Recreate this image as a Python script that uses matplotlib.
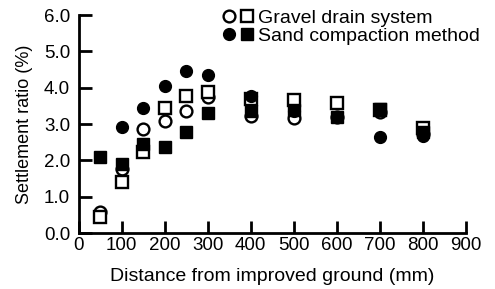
import matplotlib
matplotlib.use("Agg")
import matplotlib.pyplot as plt
from matplotlib.legend_handler import HandlerTuple

plt.rcParams['font.family'] = ['Liberation Sans', 'DejaVu Sans']

# Data (distance in mm, settlement ratio in %)
gravel_circle_x = [50, 100, 150, 200, 250, 300, 400, 500, 600, 700, 800]
gravel_circle_y = [0.59, 1.77, 2.85, 3.07, 3.36, 3.73, 3.22, 3.16, 3.20, 3.32, 2.72]
gravel_square_x = [50, 100, 150, 200, 250, 300, 400, 500, 600, 700, 800]
gravel_square_y = [0.44, 1.41, 2.23, 3.44, 3.77, 3.89, 3.68, 3.65, 3.59, 3.38, 2.90]
sand_circle_x = [100, 150, 200, 250, 300, 400, 500, 600, 700, 800]
sand_circle_y = [2.93, 3.45, 4.05, 4.45, 4.35, 3.78, 3.35, 3.18, 2.65, 2.68]
sand_square_x = [50, 100, 150, 200, 250, 300, 400, 500, 600, 700, 800]
sand_square_y = [2.09, 1.91, 2.44, 2.36, 2.77, 3.29, 3.35, 3.38, 3.20, 3.42, 2.78]

xticks = [0, 100, 200, 300, 400, 500, 600, 700, 800, 900]
yticks = [0.0, 1.0, 2.0, 3.0, 4.0, 5.0, 6.0]
legend_labels = ["Gravel drain system", "Sand compaction method"]

W, H = 495, 289
fig = plt.figure(figsize=(W / 100, H / 100), dpi=100)
left, right, bottom, top = 78.5, 466, 233, 15
ax = fig.add_axes([left / W, 1 - bottom / H, (right - left) / W, (bottom - top) / H])

ms = 8.5
mew = 1.7
oc, = ax.plot(gravel_circle_x, gravel_circle_y, 'o', ms=ms, mfc='white', mec='black', mew=mew, ls='none', zorder=3)
os_, = ax.plot(gravel_square_x, gravel_square_y, 's', ms=ms - 0.5, mfc='white', mec='black', mew=mew, ls='none', zorder=3)
fc, = ax.plot(sand_circle_x, sand_circle_y, 'o', ms=ms, mfc='black', mec='black', ls='none', zorder=4)
fs, = ax.plot(sand_square_x, sand_square_y, 's', ms=ms - 0.5, mfc='black', mec='black', ls='none', zorder=4)

ax.set_xlim(0, 900)
ax.set_ylim(0, 6.0)
ax.set_xticks(xticks)
ax.set_xticklabels([str(t) for t in xticks])
ax.set_yticks(yticks)
ax.set_yticklabels([f"{t:.1f}" for t in yticks])

for s in ['top', 'right']:
    ax.spines[s].set_visible(False)
for s in ['left', 'bottom']:
    ax.spines[s].set_linewidth(2.0)
    ax.spines[s].set_capstyle('projecting')

ax.tick_params(axis='both', direction='in', length=9, width=2.0, labelsize=13.5, colors='black')
ax.tick_params(axis='x', pad=3)
ax.tick_params(axis='y', pad=6)

ax.set_xlabel("Distance from improved ground (mm)", fontsize=14, labelpad=10)
ax.set_ylabel("Settlement ratio (%)", fontsize=13, labelpad=8)

ax.legend([(oc, os_), (fc, fs)], legend_labels,
          handler_map={tuple: HandlerTuple(ndivide=None, pad=0.0)},
          loc='upper left', bbox_to_anchor=(219.5 / W, 1 - 9 / H),
          bbox_transform=fig.transFigure, frameon=False,
          fontsize=14, handlelength=1.9, handletextpad=0.1, labelspacing=0.05,
          borderaxespad=0, borderpad=0)

fig.savefig("out.png", dpi=100)
